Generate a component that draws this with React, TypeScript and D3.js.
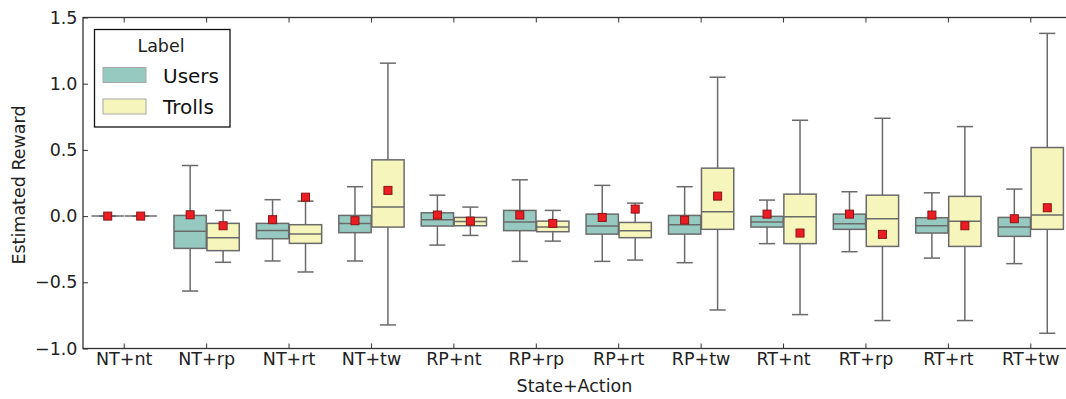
import React, { useEffect, useRef } from 'react';
import * as d3 from 'd3';

const categories = ['NT+nt', 'NT+rp', 'NT+rt', 'NT+tw', 'RP+nt', 'RP+rp', 'RP+rt', 'RP+tw', 'RT+nt', 'RT+rp', 'RT+rt', 'RT+tw'];
const hues = ['Users', 'Trolls'];

// [whisker low, q1, median, q3, whisker high]
const usersBoxes = [
    [0, 0, 0, 0, 0],
    [-0.566, -0.244, -0.115, 0.005, 0.382],
    [-0.339, -0.171, -0.108, -0.055, 0.124],
    [-0.339, -0.125, -0.055, 0.005, 0.222],
    [-0.219, -0.075, -0.027, 0.025, 0.158],
    [-0.342, -0.11, -0.045, 0.043, 0.274],
    [-0.342, -0.136, -0.075, 0.015, 0.232],
    [-0.352, -0.136, -0.065, 0.005, 0.222],
    [-0.208, -0.083, -0.045, -0.002, 0.121],
    [-0.269, -0.1, -0.057, 0.015, 0.184],
    [-0.317, -0.128, -0.073, -0.012, 0.176],
    [-0.359, -0.153, -0.083, -0.01, 0.204],
];
const usersMeans = [0, 0.01, -0.027, -0.035, 0.008, 0.008, -0.01, -0.03, 0.015, 0.015, 0.008, -0.02];

const trollsBoxes = [
    [0, 0, 0, 0, 0],
    [-0.349, -0.261, -0.163, -0.055, 0.043],
    [-0.422, -0.206, -0.135, -0.065, 0.113],
    [-0.822, -0.083, 0.068, 0.425, 1.155],
    [-0.146, -0.073, -0.04, -0.01, 0.068],
    [-0.189, -0.118, -0.083, -0.038, 0.043],
    [-0.332, -0.163, -0.11, -0.048, 0.098],
    [-0.709, -0.1, 0.033, 0.362, 1.049],
    [-0.744, -0.208, -0.005, 0.166, 0.724],
    [-0.789, -0.229, -0.02, 0.158, 0.739],
    [-0.789, -0.229, -0.038, 0.149, 0.676],
    [-0.885, -0.1, 0.008, 0.518, 1.38],
];
const trollsMeans = [0, -0.073, 0.143, 0.194, -0.038, -0.055, 0.053, 0.151, -0.128, -0.138, -0.073, 0.063];

const yTicks = [-1.0, -0.5, 0.0, 0.5, 1.0, 1.5];

const hueColors = { Users: '#96cac1', Trolls: '#f5f5bc' };
const lineGray = '#6a6a6a';
const font = 'DejaVu Sans, sans-serif';

const App = () => {
    const chartRef = useRef<SVGSVGElement>(null);

    useEffect(() => {
        drawChart();
    }, []);

    const drawChart = () => {
        const width = 1066;
        const height = 399;
        const plot = { left: 83, right: 1072, top: 17.5, bottom: 348.5 };

        const root = d3.select(chartRef.current);
        root.selectAll('*').remove();
        root.attr('width', width).attr('height', height);
        const svg = root.append('g');

        const x = d3.scaleBand()
            .domain(categories)
            .range([plot.left, plot.right])
            .padding(0);

        const hue = d3.scaleBand()
            .domain(hues)
            .range([x.bandwidth() * 0.1, x.bandwidth() * 0.9])
            .padding(0);

        const y = d3.scaleLinear()
            .domain([-1.0, 1.5])
            .range([plot.bottom, plot.top]);

        const boxW = hue.bandwidth() * 0.98;
        const capW = boxW / 2;

        const series = [
            { name: 'Users', boxes: usersBoxes, means: usersMeans },
            { name: 'Trolls', boxes: trollsBoxes, means: trollsMeans },
        ];

        series.forEach(s => {
            const g = svg.append('g');
            const rows = s.boxes.map((b, i) => ({ cat: categories[i], b, mean: s.means[i] }));
            const cx = d => x(d.cat) + hue(s.name) + hue.bandwidth() / 2;

            const item = g.selectAll('.box')
                .data(rows)
                .enter().append('g')
                .attr('class', 'box');

            // whiskers
            item.append('line')
                .attr('x1', cx).attr('x2', cx)
                .attr('y1', d => y(d.b[4])).attr('y2', d => y(d.b[3]))
                .attr('stroke', lineGray).attr('stroke-width', 1.5);
            item.append('line')
                .attr('x1', cx).attr('x2', cx)
                .attr('y1', d => y(d.b[1])).attr('y2', d => y(d.b[0]))
                .attr('stroke', lineGray).attr('stroke-width', 1.5);
            // caps
            [0, 4].forEach(k => {
                item.append('line')
                    .attr('x1', d => cx(d) - capW / 2).attr('x2', d => cx(d) + capW / 2)
                    .attr('y1', d => y(d.b[k])).attr('y2', d => y(d.b[k]))
                    .attr('stroke', lineGray).attr('stroke-width', 1.5);
            });
            // box
            item.append('rect')
                .attr('x', d => cx(d) - boxW / 2)
                .attr('width', boxW)
                .attr('y', d => y(d.b[3]))
                .attr('height', d => y(d.b[1]) - y(d.b[3]))
                .attr('fill', hueColors[s.name])
                .attr('stroke', lineGray)
                .attr('stroke-width', 1.5);
            // median
            item.append('line')
                .attr('x1', d => cx(d) - boxW / 2).attr('x2', d => cx(d) + boxW / 2)
                .attr('y1', d => y(d.b[2])).attr('y2', d => y(d.b[2]))
                .attr('stroke', lineGray).attr('stroke-width', 1.5);
        });

        // mean markers on top
        series.forEach(s => {
            const ms = 8;
            svg.append('g').selectAll('rect')
                .data(s.means.map((m, i) => ({ cat: categories[i], m })))
                .enter().append('rect')
                .attr('x', d => x(d.cat) + hue(s.name) + hue.bandwidth() / 2 - ms / 2)
                .attr('y', d => y(d.m) - ms / 2)
                .attr('width', ms)
                .attr('height', ms)
                .attr('fill', '#ec1c24')
                .attr('stroke', '#8a1414')
                .attr('stroke-width', 1);
        });

        // axes with inward ticks
        const styleAxis = g => {
            g.select('.domain').remove();
            g.selectAll('line').attr('stroke', '#333').attr('stroke-width', 1);
            g.selectAll('text').attr('font-family', font).attr('font-size', 17.5).attr('fill', '#222');
        };

        svg.append('g')
            .attr('transform', `translate(0,${plot.bottom})`)
            .call(d3.axisBottom(x).tickSize(-5).tickPadding(4.5))
            .call(styleAxis);

        svg.append('g')
            .attr('transform', `translate(0,${plot.top})`)
            .call(d3.axisTop(x).tickSize(-5).tickFormat(() => ''))
            .call(styleAxis);

        svg.append('g')
            .attr('transform', `translate(${plot.left},0)`)
            .call(d3.axisLeft(y).tickValues(yTicks).tickSize(-5).tickPadding(5.5).tickFormat(d3.format('.1f')))
            .call(styleAxis);

        svg.selectAll('text').filter(function () { return (this as SVGTextElement).textContent.startsWith('-'); })
            .text(function () { return (this as SVGTextElement).textContent.replace('-', '\u2212'); });

        svg.append('rect')
            .attr('x', plot.left).attr('y', plot.top)
            .attr('width', plot.right - plot.left).attr('height', plot.bottom - plot.top)
            .attr('fill', 'none').attr('stroke', '#333').attr('stroke-width', 1.3);

        // axis labels
        svg.append('text')
            .attr('x', (plot.left + plot.right) / 2 - 3)
            .attr('y', 392)
            .attr('text-anchor', 'middle')
            .attr('font-family', font).attr('font-size', 17.5).attr('fill', '#222')
            .text('State+Action');

        svg.append('text')
            .attr('transform', `translate(24.5,${(plot.top + plot.bottom) / 2 + 2}) rotate(-90)`)
            .attr('text-anchor', 'middle')
            .attr('font-family', font).attr('font-size', 17.5).attr('fill', '#222')
            .text('Estimated Reward');

        // legend
        const legend = svg.append('g');
        legend.append('rect')
            .attr('x', 94.5).attr('y', 29.5).attr('width', 135.5).attr('height', 97.5)
            .attr('fill', 'white').attr('stroke', '#111').attr('stroke-width', 1.3);
        legend.append('text')
            .attr('x', 161).attr('y', 52)
            .attr('text-anchor', 'middle')
            .attr('font-family', font).attr('font-size', 17.5).attr('fill', '#222')
            .text('Label');
        hues.forEach((h, i) => {
            legend.append('rect')
                .attr('x', 103).attr('y', 67.5 + i * 31.5).attr('width', 43).attr('height', 15)
                .attr('fill', hueColors[h]).attr('stroke', '#a8a8a8').attr('stroke-width', 1);
            legend.append('text')
                .attr('x', 163).attr('y', 83 + i * 30.5)
                .attr('font-family', font).attr('font-size', 20).attr('fill', '#111')
                .text(h);
        });
    };

    return (
        <svg ref={chartRef} style={{ position: 'absolute', left: 0, top: 0 }}></svg>
    );
};

export default App;
